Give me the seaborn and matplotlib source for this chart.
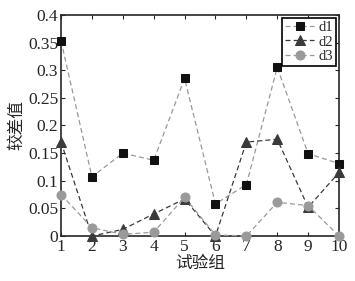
import numpy as np
import pandas as pd
import matplotlib
matplotlib.use("Agg")
import matplotlib.pyplot as plt
import seaborn as sns

# dados
grupos = [1, 2, 3, 4, 5, 6, 7, 8, 9, 10]
d1 = [0.353, 0.107, 0.150, 0.137, 0.285, 0.058, 0.093, 0.305, 0.149, 0.131]
d2 = [0.170, 0.000, 0.012, 0.040, 0.067, 0.000, 0.170, 0.175, 0.052, 0.115]
d3 = [0.075, 0.015, 0.003, 0.007, 0.070, 0.002, 0.000, 0.061, 0.055, 0.000]

df = pd.DataFrame({"grupo": grupos * 3,
                   "valor": d1 + d2 + d3,
                   "serie": ["d1"] * 10 + ["d2"] * 10 + ["d3"] * 10})

sns.set_style("ticks")
plt.rcParams['font.family'] = ['Liberation Serif', 'Noto Sans CJK SC']
plt.rcParams['xtick.direction'] = 'in'
plt.rcParams['ytick.direction'] = 'in'

fig = plt.figure(figsize=(3.55, 2.81), dpi=100)
ax = fig.add_axes([0.172, 0.160, 0.783, 0.787])

estilos = {"d1": ("s", "#111111", "#999999", 5.5),
           "d2": ("^", "#3a3a3a", "#3a3a3a", 6.5),
           "d3": ("o", "#9a9a9a", "#9a9a9a", 6.5)}
for nome, (mk, cor_m, cor_l, ms) in estilos.items():
    sub = df[df["serie"] == nome]
    sns.lineplot(data=sub, x="grupo", y="valor", ax=ax, color=cor_l,
                 linestyle=(0, (4, 2.5)), linewidth=0.9, marker=mk,
                 markersize=ms, markerfacecolor=cor_m, markeredgecolor=cor_m,
                 label=nome, clip_on=False, zorder=3)

ax.set_xlim(1, 10)
ax.set_ylim(0, 0.4)
ax.set_xticks(grupos)
ax.set_yticks([0, 0.05, 0.1, 0.15, 0.2, 0.25, 0.3, 0.35, 0.4])
ax.set_yticklabels(["0", "0.05", "0.1", "0.15", "0.2", "0.25", "0.3", "0.35", "0.4"])
ax.tick_params(labelsize=12.5, top=True, right=True, length=3, width=0.8, pad=2)
for s in ax.spines.values():
    s.set_linewidth(1.2)
ax.set_xlabel("试验组", fontsize=12, labelpad=1)
ax.set_ylabel("较差值", fontsize=12, labelpad=2)

leg = ax.legend(loc="upper right", fontsize=10.5, fancybox=False, framealpha=1,
                edgecolor="black", handlelength=2.0, borderpad=0.2,
                labelspacing=0.1, handletextpad=0.3, borderaxespad=0.2)
leg.get_frame().set_linewidth(1.2)
leg.set_zorder(5)

fig.savefig("out.png", dpi=100)
